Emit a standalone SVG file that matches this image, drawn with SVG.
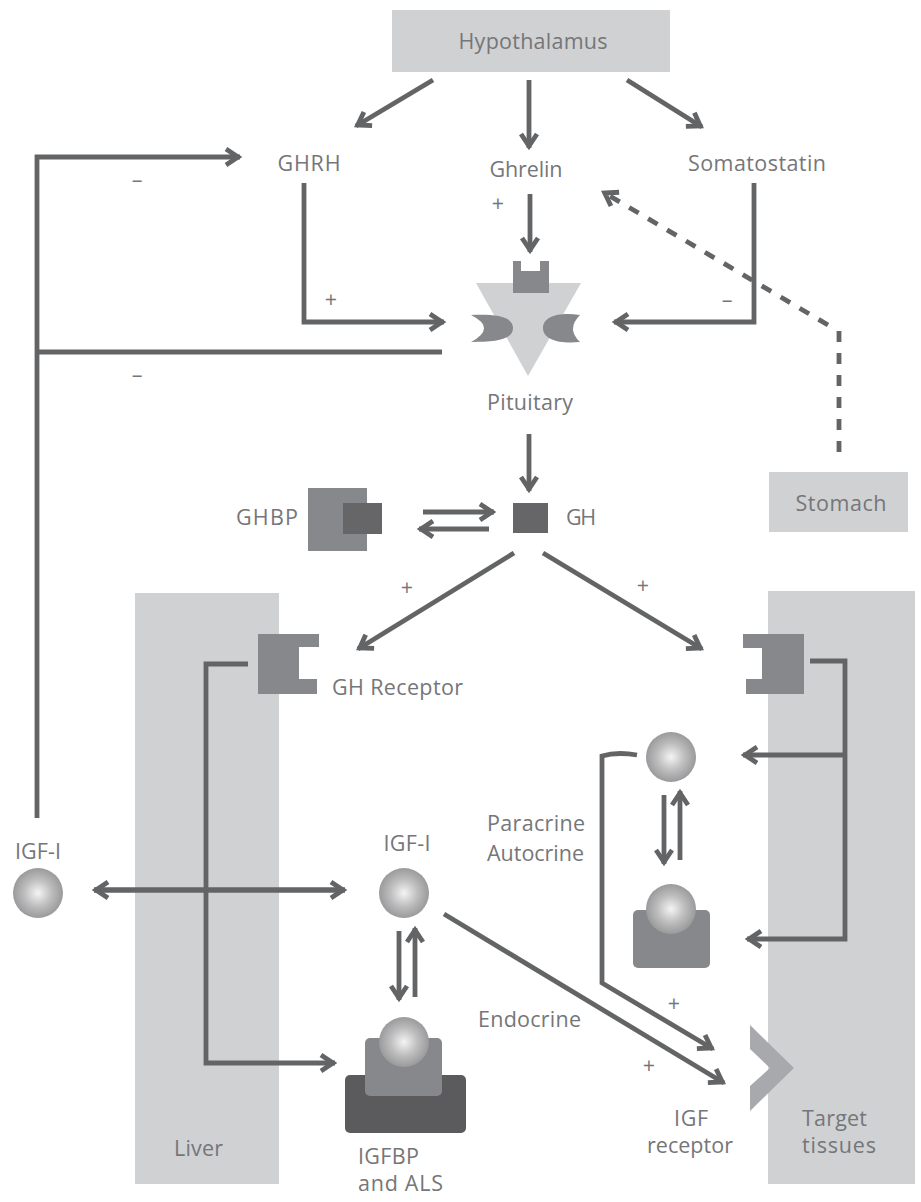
<svg xmlns="http://www.w3.org/2000/svg" width="921" height="1202" viewBox="0 0 921 1202">
<style>
text{font-family:"Open Sans","Liberation Sans",sans-serif;font-size:21.5px;fill:#757679}
.m{text-anchor:middle}
.c{fill:none;stroke:#636466;stroke-width:4.8;stroke-linejoin:miter}
.a{marker-end:url(#ah)}
.r{fill:#87888b}
.d{fill:#666668}
.k{fill:#5b5b5d}
.p{fill:#d0d1d3}
.s{stroke-dasharray:11 11}
</style>
<defs>
<radialGradient id="b"><stop offset="0" stop-color="#f4f4f4"/><stop offset="0.55" stop-color="#bdbdbe"/><stop offset="1" stop-color="#9a9a9c"/></radialGradient>
<marker id="ah" markerUnits="userSpaceOnUse" markerWidth="22" markerHeight="22" refX="17" refY="10" orient="auto" viewBox="0 0 22 20"><path d="M3 2 L15 10 L3 18" fill="none" stroke="#636466" stroke-width="4.8"/></marker>
</defs>
<rect class="p" x="135" y="593" width="144" height="591"/>
<rect class="p" x="768" y="591" width="147" height="593"/>
<g id="hypothalamus"><rect class="p" x="392" y="10" width="278" height="62"/><text class="m" x="533" y="49" textLength="149">Hypothalamus</text></g>
<g id="ghrh"><text class="m" x="309" y="171" textLength="63">GHRH</text></g>
<g id="ghrelin"><text class="m" x="526" y="177" textLength="73">Ghrelin</text></g>
<g id="somatostatin"><text class="m" x="757" y="171" textLength="138">Somatostatin</text></g>
<g id="pituitary">
<path class="p" d="M476 283H581L528 376Z"/>
<path class="r" d="M513 283V261H521V271H540V261H549V293H513Z"/>
<path class="r" d="M471 315C495 314 513 316 513 328C513 340 495 342 471 342Q497 328 471 315Z"/>
<path class="r" d="M580 315C560 312 543 316 543 328C543 340 560 344 580 342Q566 329 580 315Z"/>
<text class="m" x="530" y="410" textLength="86">Pituitary</text>
</g>
<g id="stomach"><rect class="p" x="769" y="472" width="139" height="60"/><text class="m" x="841" y="511" textLength="91">Stomach</text></g>
<g id="ghbp"><rect class="r" x="308" y="488" width="59" height="63"/><rect class="d" x="343" y="503" width="39" height="31"/><text class="m" x="267" y="525" textLength="62">GHBP</text></g>
<g id="gh"><rect class="d" x="513" y="503" width="35" height="30"/><text class="m" x="581" y="525" textLength="30">GH</text></g>
<g id="gh-receptor-left"><path class="r" d="M258 634H319V647H299V679H317V694H258Z"/><text x="332" y="695" textLength="131">GH Receptor</text></g>
<g id="gh-receptor-right"><path class="r" d="M743 634H804V694H746V679H762V648H743Z"/></g>
<g id="igf-left"><text class="m" x="38" y="859" textLength="46">IGF-I</text><circle cx="38" cy="893" r="25" fill="url(#b)"/></g>
<g id="igf-center"><text class="m" x="407" y="851" textLength="47">IGF-I</text><circle cx="404" cy="893" r="25" fill="url(#b)"/></g>
<g id="igfbp"><rect class="k" x="345" y="1075" width="121" height="58" rx="5"/><rect class="r" x="365" y="1038" width="77" height="58" rx="5"/><circle cx="404" cy="1042" r="25" fill="url(#b)"/><text x="358" y="1164" textLength="61">IGFBP</text><text x="358" y="1191" textLength="85">and ALS</text></g>
<g id="igf-para"><circle cx="671" cy="757" r="25" fill="url(#b)"/></g>
<g id="igf-para-bound"><rect class="r" x="633" y="910" width="77" height="58" rx="5"/><circle cx="671" cy="909" r="25" fill="url(#b)"/></g>
<g id="igf-receptor"><path d="M750 1025L794 1068L750 1111V1086L770 1068L750 1049Z" fill="#a7a9ac"/><text class="m" x="691" y="1126" textLength="34">IGF</text><text class="m" x="690" y="1153" textLength="86">receptor</text></g>
<g id="target"><text x="802" y="1126" textLength="65">Target</text><text x="802" y="1153" textLength="74">tissues</text></g>
<g id="liver"><text x="174" y="1156" textLength="49">Liver</text></g>
<g id="labels">
<text class="m" x="137" y="187">–</text><text class="m" x="137" y="382">–</text><text class="m" x="727" y="307">–</text>
<text class="m" x="498" y="211">+</text><text class="m" x="331" y="307">+</text><text class="m" x="407" y="595">+</text><text class="m" x="643" y="593">+</text><text class="m" x="674" y="1011">+</text><text class="m" x="649" y="1073">+</text>
<text x="487" y="831" textLength="98">Paracrine</text><text x="487" y="861" textLength="97">Autocrine</text><text x="478" y="1027" textLength="103">Endocrine</text>
</g>
<g id="connectors">
<path class="c a" d="M433 80L356 126"/>
<path class="c a" d="M529 80V148"/>
<path class="c a" d="M627 80L702 127"/>
<path class="c a" d="M37 818V157H240"/>
<path class="c" d="M37 352H442"/>
<path class="c a" d="M304 183V322H444"/>
<path class="c a" d="M530 194V252"/>
<path class="c a" d="M754 183V322H614"/>
<path class="c s" d="M839 452V330"/>
<path class="c s a" d="M828 325L603 192"/>
<path class="c a" d="M529 434V491"/>
<path class="c a" d="M423 512H494"/>
<path class="c a" d="M489 529H419"/>
<path class="c a" d="M514 553L358 649"/>
<path class="c a" d="M543 553L702 649"/>
<path class="c a" d="M248 664H206V1063H335"/>
<path class="c a" d="M810 661H845V939H747"/>
<path class="c a" d="M845 755H743"/>
<path class="c a" d="M94 890H345"/>
<path class="c a" d="M345 890H94"/>
<path class="c a" d="M399 931V1000"/>
<path class="c a" d="M415 997V928"/>
<path class="c a" d="M664 795V864"/>
<path class="c a" d="M680 860V791"/>
<path class="c a" d="M637 755C625 753 612 753 602 756V983L713 1049"/>
<path class="c a" d="M444 914L724 1083"/>
</g>
</svg>
